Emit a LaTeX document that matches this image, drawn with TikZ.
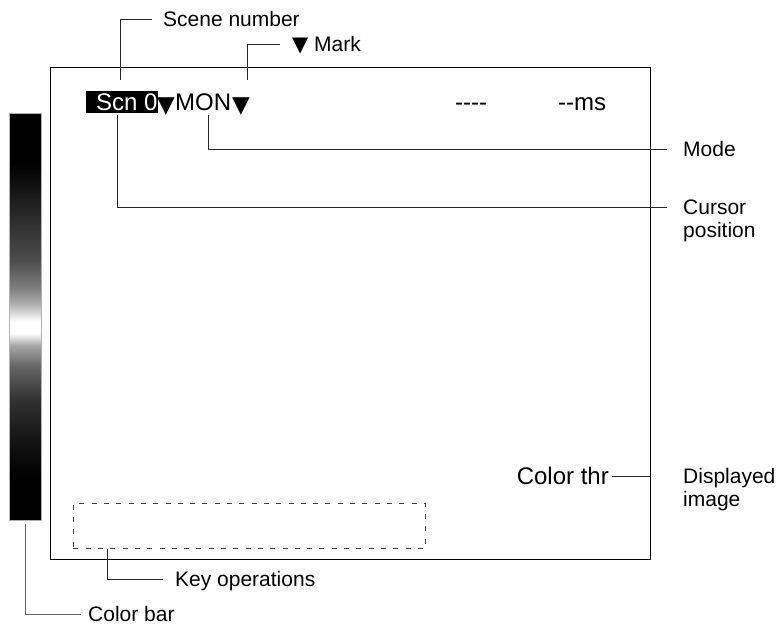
\documentclass[tikz,border=0pt]{standalone}
\usepackage{fontspec}
\setmainfont{Liberation Sans}
\newfontfamily\symf{DejaVu Sans}
\pgfdeclareverticalshading{cbarshade}{100bp}{color(0bp)=(black); color(25bp)=(black); color(30bp)=(black); color(35bp)=(black!92); color(40bp)=(black!80); color(44bp)=(black!60); color(46.5bp)=(black!35); color(48bp)=(white); color(49.5bp)=(white); color(51.5bp)=(black!30); color(53.5bp)=(black!50); color(57bp)=(black!70); color(63bp)=(black!85); color(69bp)=(black); color(75bp)=(black); color(100bp)=(black)}
\begin{document}
\begin{tikzpicture}[x=1pt,y=-1pt,
  conn/.style={line width=0.9pt, draw=black!85},
  lbl/.style={font=\fontsize{21}{23}\selectfont, inner sep=0pt, anchor=west, text height=15pt, text depth=0pt},
  lbl2/.style={font=\fontsize{21}{23}\selectfont, inner sep=0pt, anchor=north west, align=left},
  scr/.style={font=\fontsize{24}{26}\selectfont, inner sep=0pt, anchor=base west},
  tri/.style={font=\symf\fontsize{23}{26}\selectfont, inner sep=0pt, anchor=base west}]
\useasboundingbox (0,0) rectangle (777,625);
% screen frame
\node[draw, line width=1.2pt, minimum width=600pt, minimum height=492pt, anchor=north west, inner sep=0pt] (screen) at (50,67) {};
% colour bar
\node[shading=cbarshade, draw=black!30, line width=1.2pt, minimum width=32pt, minimum height=407pt, anchor=north west, inner sep=0pt] (cbar) at (9,113) {};
% top line of the screen
\node[fill=black, minimum width=72pt, minimum height=22pt, anchor=north west, inner sep=0pt] (scnbox) at (86,91) {};
\node[scr, text=white] (scn) at (96,110) {Scn 0};
\node[tri] (tri1) at (157,112) {▼};
\node[scr] (mon) at (175,110) {MON};
\node[tri] (tri2) at (232,112) {▼};
\node[scr] (dashes) at (455,110) {-{}-{}-{}-};
\node[scr] (ms) at (558,110) {-{}-ms};
% displayed image text
\node[font=\fontsize{24}{26}\selectfont, inner sep=0pt, anchor=east, text height=17pt, text depth=0pt] (thr) at (609,476) {Color thr};
% key operations area
\node[draw=black!75, line width=0.8pt, dash pattern=on 5pt off 7.3pt, minimum width=352pt, minimum height=45pt, anchor=north west, inner sep=0pt] (keys) at (73,503) {};
% labels
\node[lbl] (scene) at (163,19) {Scene number};
\node[lbl] (mark) at (292,44) {{\symf ▼} Mark};
\node[lbl] (mode) at (683,149) {Mode};
\node[lbl2] (cursor) at (683,200) {Cursor\\position};
\node[lbl2] (disp) at (683,468) {Displayed\\image};
\node[lbl] (keylbl) at (175,579) {Key operations};
\node[lbl] (cbarlbl) at (88,614) {Color bar};
% connector ends
\coordinate (scenetop) at (120,80);
\coordinate (marktop) at (247,80);
\coordinate (modetop) at (208,115);
\coordinate (cursortop) at (117,115);
\coordinate (thrend) at (650,476);
% connectors
\draw[conn] (scenetop) |- ([xshift=-11pt]scene.west);
\draw[conn] (marktop) |- ([xshift=-12pt]mark.west);
\draw[conn] (modetop) |- ([xshift=-16pt]mode.west);
\draw[conn] (cursortop) |- ([xshift=-16pt,yshift=-7.5pt]cursor.north west);
\draw[conn] ([xshift=3pt]thr.east) -- (thrend);
\draw[conn] ([xshift=34pt]keys.south west) |- ([xshift=-12pt]keylbl.west);
\draw[conn, draw=black!60] ([yshift=-3pt]cbar.south) |- ([xshift=-7pt]cbarlbl.west);
\end{tikzpicture}
\end{document}
